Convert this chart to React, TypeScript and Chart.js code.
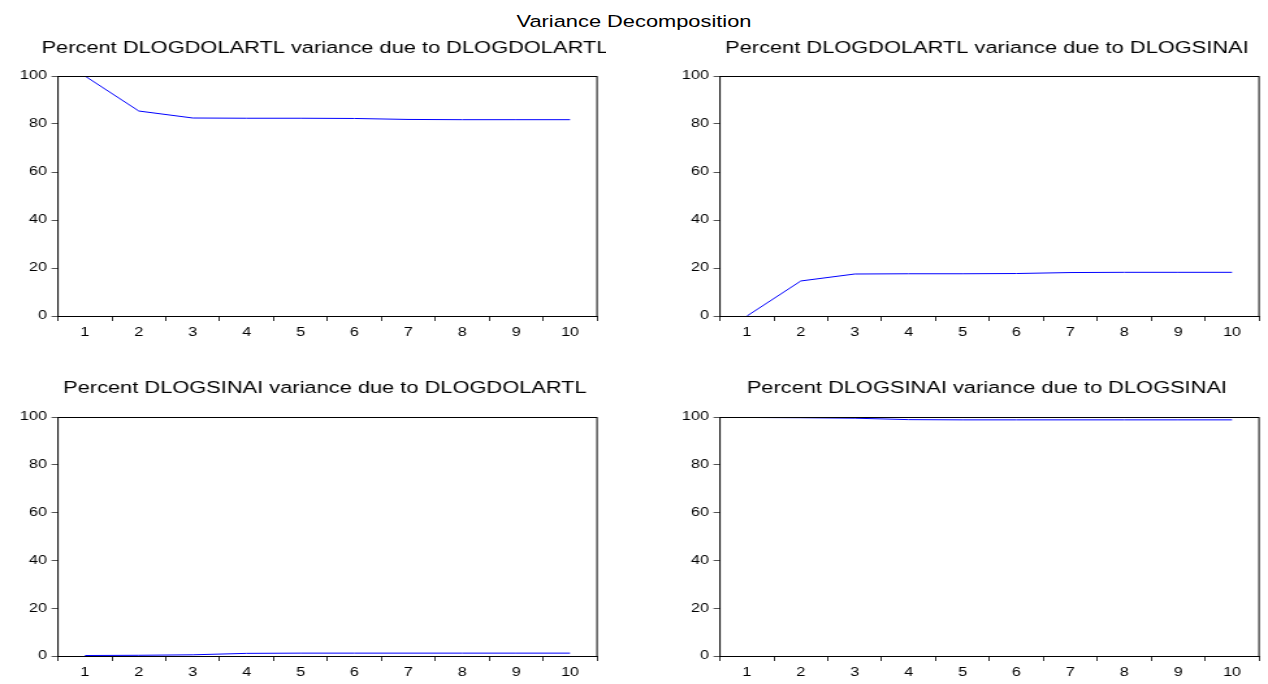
import React, { useEffect, useRef } from "react";
import { Chart, registerables } from "chart.js";

Chart.register(...registerables);

const MAIN_TITLE = "Variance Decomposition";
const CATEGORIES = ["1", "2", "3", "4", "5", "6", "7", "8", "9", "10"];
const Y_TICKS = [0, 20, 40, 60, 80, 100];

const DOLAR_DUE_DOLAR = [100, 85.4, 82.5, 82.4, 82.4, 82.3, 81.9, 81.8, 81.8, 81.8];
const DOLAR_DUE_SINAI = [0, 14.6, 17.5, 17.6, 17.6, 17.7, 18.1, 18.2, 18.2, 18.2];
const SINAI_DUE_DOLAR = [0.2, 0.3, 0.5, 1.1, 1.2, 1.2, 1.2, 1.2, 1.2, 1.2];
const SINAI_DUE_SINAI = [99.8, 99.7, 99.5, 98.9, 98.8, 98.8, 98.8, 98.8, 98.8, 98.8];

const PANEL_TITLES = [
  "Percent DLOGDOLARTL variance due to DLOGDOLARTL",
  "Percent DLOGDOLARTL variance due to DLOGSINAI",
  "Percent DLOGSINAI variance due to DLOGDOLARTL",
  "Percent DLOGSINAI variance due to DLOGSINAI",
];

const FONT = 'Arial, "Liberation Sans", sans-serif';
const TITLE_SIZE = 16.8;
const TICK_SIZE = 12.5;

// the reference graph is drawn wider than tall (horizontal stretch)
const CSS_W = 606;
const INNER_W = 466;
const STRETCH = CSS_W / INNER_W;
const AREA_LEFT = 58 / STRETCH;
const AREA_RIGHT_PAD = INNER_W - 597 / STRETCH;

const boxPlugin = {
  id: "boxPlugin",
  afterDraw(chart: any) {
    const { ctx, chartArea } = chart;
    ctx.save();
    ctx.strokeStyle = "#000";
    ctx.lineWidth = 1;
    ctx.strokeRect(
      chartArea.left,
      Math.round(chartArea.top) + 0.5,
      chartArea.right - chartArea.left,
      Math.round(chartArea.bottom - chartArea.top)
    );
    ctx.restore();
  },
};

const panelTitlePlugin = {
  id: "panelTitle",
  afterDraw(chart: any, _args: any, opts: any) {
    if (!opts || !opts.text) return;
    const { ctx, chartArea } = chart;
    ctx.save();
    ctx.fillStyle = "#000";
    ctx.font = `${TITLE_SIZE}px ${FONT}`;
    ctx.textAlign = "center";
    ctx.textBaseline = "middle";
    ctx.fillText(opts.text, (chartArea.left + chartArea.right) / 2 + (opts.dx || 0), opts.y);
    ctx.restore();
  },
};

type PanelProps = {
  title: string;
  values: number[];
  left: number;
  top: number;
  height: number;
  titleY: number;
};

function Panel({ title, values, left, top, height, titleY }: PanelProps) {
  const ref = useRef<HTMLCanvasElement | null>(null);
  useEffect(() => {
    if (!ref.current) return;
    const chart = new Chart(ref.current, {
      type: "line",
      data: {
        labels: CATEGORIES,
        datasets: [
          {
            data: values,
            borderColor: "#0000ff",
            borderWidth: 1,
            pointRadius: 0,
            tension: 0,
            fill: false,
          },
        ],
      },
      options: {
        animation: false,
        responsive: false,
        maintainAspectRatio: false,
        devicePixelRatio: 1,
        layout: { padding: { left: 0, right: AREA_RIGHT_PAD, top: 46, bottom: 0 } },
        plugins: {
          legend: { display: false },
          tooltip: { enabled: false },
          title: { display: false },
          panelTitle: { text: title, y: titleY, dx: -2 },
        },
        scales: {
          x: {
            type: "category",
            offset: true,
            grid: {
              offset: true,
              drawOnChartArea: false,
              drawTicks: true,
              tickLength: 5,
              color: "#333",
            },
            border: { display: false },
            ticks: {
              color: "#000",
              font: { family: FONT, size: TICK_SIZE },
              padding: 4,
              maxRotation: 0,
              autoSkip: false,
            },
            afterFit: (s: any) => {
              s.height = 30;
            },
          },
          y: {
            min: 0,
            max: 100,
            afterBuildTicks: (s: any) => {
              s.ticks = Y_TICKS.map((v) => ({ value: v }));
            },
            grid: {
              drawOnChartArea: false,
              drawTicks: true,
              tickLength: 5,
              color: "#555",
            },
            border: { display: false },
            ticks: {
              color: "#000",
              font: { family: FONT, size: TICK_SIZE },
              padding: 3.5,
            },
            afterFit: (s: any) => {
              s.width = AREA_LEFT;
            },
          },
        },
      } as any,
      plugins: [boxPlugin, panelTitlePlugin],
    });
    return () => chart.destroy();
  }, [title, values, titleY]);
  return (
    <canvas
      ref={ref}
      width={INNER_W}
      height={height}
      style={{ position: "absolute", left, top, width: CSS_W, height }}
    />
  );
}

export default function App() {
  return (
    <div
      style={{
        position: "fixed",
        left: 0,
        top: 0,
        width: 1268,
        height: 684,
        background: "#fff",
        overflow: "hidden",
      }}
    >
      <div
        style={{
          position: "absolute",
          left: 434,
          top: 12,
          width: 400,
          textAlign: "center",
          fontFamily: FONT,
          fontSize: TITLE_SIZE,
          lineHeight: "20px",
          color: "#000",
          whiteSpace: "nowrap",
          transform: `scaleX(${STRETCH})`,
          transformOrigin: "50% 50%",
        }}
      >
        {MAIN_TITLE}
      </div>
      <Panel title={PANEL_TITLES[0]} values={DOLAR_DUE_DOLAR} left={0} top={30} height={316} titleY={18} />
      <Panel title={PANEL_TITLES[1]} values={DOLAR_DUE_SINAI} left={662} top={30} height={316} titleY={18} />
      <Panel title={PANEL_TITLES[2]} values={SINAI_DUE_DOLAR} left={0} top={371} height={315} titleY={17} />
      <Panel title={PANEL_TITLES[3]} values={SINAI_DUE_SINAI} left={662} top={371} height={315} titleY={17} />
    </div>
  );
}
